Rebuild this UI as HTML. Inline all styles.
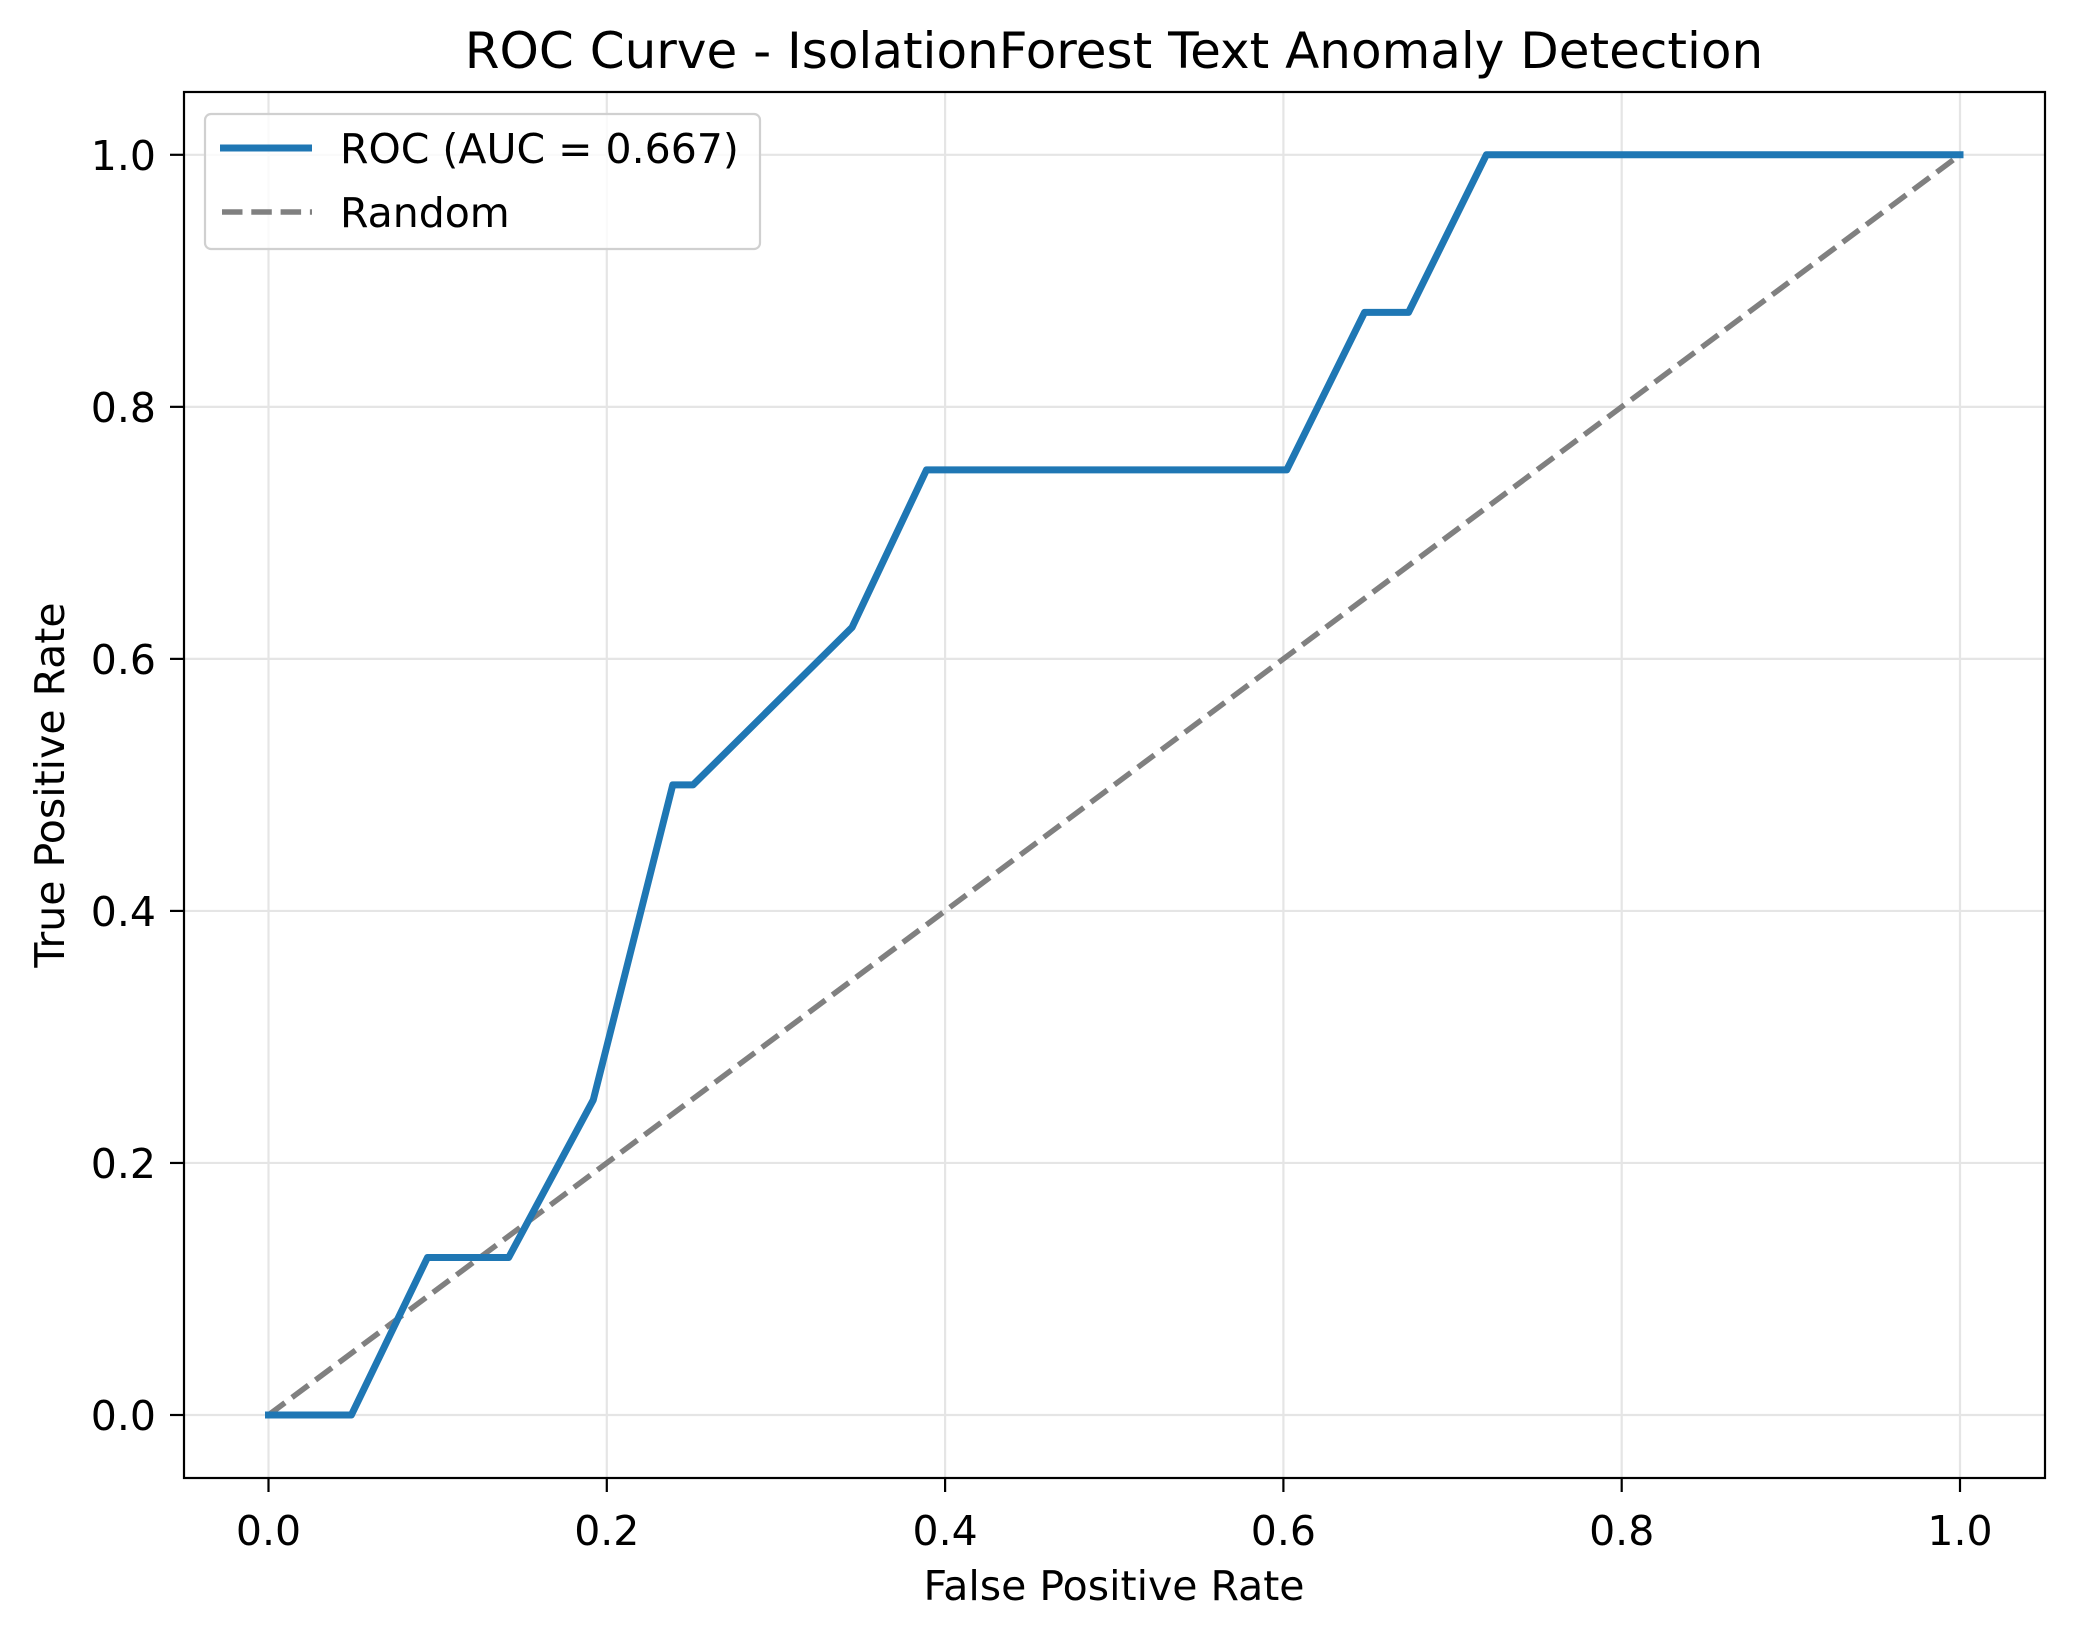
<!DOCTYPE html>
<html><head><meta charset="utf-8"><style>
body{margin:0;background:#fff}
svg text{font-family:"DejaVu Sans","Liberation Sans",sans-serif;fill:#000}
</style></head><body>
<svg width="2074" height="1638" viewBox="0 0 2074 1638">
<g id="grid"></g>
<g id="ticks"></g>
<line x1="268.5" y1="1415" x2="1960" y2="154.8" stroke="#808080" stroke-width="5.5" stroke-dasharray="20.5,8.8"/>
<polyline id="roc" fill="none" stroke="#1f77b4" stroke-width="7" stroke-linejoin="round" stroke-linecap="square"/>
<rect x="184" y="92" width="1861" height="1386" fill="none" stroke="#000" stroke-width="2.2"/>
<text x="1114" y="68" font-size="50" text-anchor="middle">ROC Curve - IsolationForest Text Anomaly Detection</text>
<text x="1114" y="1600" font-size="41" text-anchor="middle">False Positive Rate</text>
<text x="0" y="0" font-size="41" text-anchor="middle" transform="translate(64,785) rotate(-90)">True Positive Rate</text>
<g>
<rect x="205" y="114" width="555" height="135" rx="6" fill="#fff" fill-opacity="0.8" stroke="#d0d0d0" stroke-width="2.2"/>
<line x1="220" y1="148" x2="312" y2="148" stroke="#1f77b4" stroke-width="7"/>
<text x="340" y="163" font-size="41">ROC (AUC = 0.667)</text>
<line x1="222" y1="212" x2="312" y2="212" stroke="#808080" stroke-width="5.5" stroke-dasharray="20.5,8.8"/>
<text x="340" y="227" font-size="41">Random</text>
</g>
</svg>
<script>
const fpr=[0,0.049,0.094,0.142,0.192,0.239,0.251,0.345,0.389,0.602,0.648,0.674,0.720,1];
const tpr=[0,0,0.125,0.125,0.25,0.5,0.5,0.625,0.75,0.75,0.875,0.875,1,1];
const xTicks=[0,0.2,0.4,0.6,0.8,1.0];
const yTicks=[0,0.2,0.4,0.6,0.8,1.0];
const X=v=>268.5+v*(1960-268.5);
const Y=v=>1415-v*(1415-154.8);
const NS='http://www.w3.org/2000/svg';
const grid=document.getElementById('grid'),ticks=document.getElementById('ticks');
function mk(tag,attrs,parent){const e=document.createElementNS(NS,tag);for(const k in attrs)e.setAttribute(k,attrs[k]);parent.appendChild(e);return e;}
xTicks.forEach(t=>{
  const g=mk('line',{x1:X(t),x2:X(t),y1:92,y2:1478,stroke:'#e5e5e5','stroke-width':2.2},grid);
  
  
  const tk=mk('line',{x1:X(t),x2:X(t),y1:1478,y2:1492,stroke:'#000','stroke-width':2.2},ticks);
  
  
  const tx=mk('text',{x:X(t),y:1545,'font-size':41,'text-anchor':'middle'},ticks);
  tx.textContent=t.toFixed(1);
  
  
});
yTicks.forEach(t=>{
  const g=mk('line',{x1:184,x2:2045,y1:Y(t),y2:Y(t),stroke:'#e5e5e5','stroke-width':2.2},grid);
  
  
  const tk=mk('line',{x1:170,x2:184,y1:Y(t),y2:Y(t),stroke:'#000','stroke-width':2.2},ticks);
  
  
  const tx=mk('text',{x:156,y:Y(t)+15,'font-size':41,'text-anchor':'end'},ticks);
  tx.textContent=t.toFixed(1);
  
  
});
document.getElementById('roc').setAttribute('points',fpr.map((f,i)=>X(f)+','+Y(tpr[i])).join(' '));
</script>
</body></html>
